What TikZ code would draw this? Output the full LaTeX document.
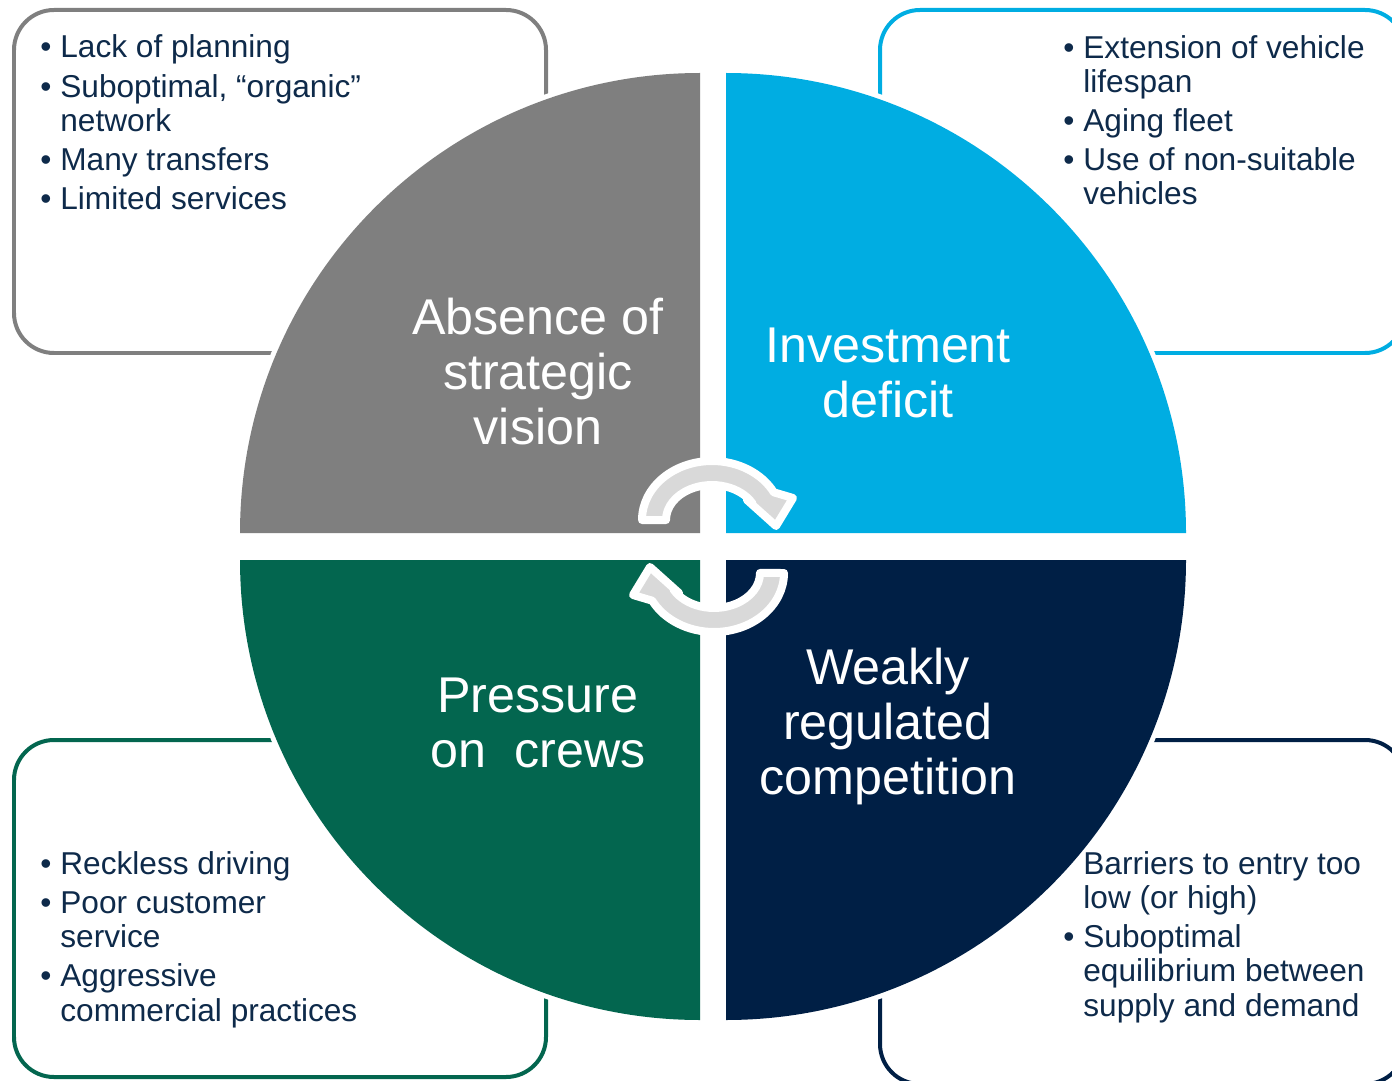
\documentclass[tikz,border=0pt]{standalone}
\usepackage{fontspec}
\setmainfont{Liberation Sans}
\definecolor{qgray}{HTML}{7F7F7F}
\definecolor{qblue}{HTML}{00ADE2}
\definecolor{qgreen}{HTML}{03664F}
\definecolor{qnavy}{HTML}{001F45}
\definecolor{textnavy}{HTML}{0E2A4A}
\definecolor{arrowgray}{HTML}{D9D9D9}
\newcommand{\itm}{\makebox[11.4pt][l]{•}}
\newcommand{\itmcont}{\hspace*{11.4pt}}
\tikzset{
	quad/.style={preaction={draw=white,line width=0.2cm}},
	panel/.style={rounded corners=0.8cm,line width=0.08cm},
	bullets/.style={anchor=base west,inner sep=0pt,align=left,text=textnavy,font=\fontsize{18}{19.4}\selectfont},
	title/.style={anchor=base,inner sep=0pt,align=center,text=white,font=\fontsize{28.6}{31.3}\selectfont},
	cycarrow/.style={fill=arrowgray,draw=white,line width=0.16cm,line join=round}
}

\begin{document}
\begin{tikzpicture}[x=0.02cm,y=0.02cm]
	\useasboundingbox (0,0) rectangle (1392,1080);
	\draw[panel,qgray] (14,727) rectangle (546,1070);
	\draw[panel,qblue] (880,727) rectangle (1405,1070);
	\draw[panel,qgreen] (14,3) rectangle (546,340);
	\draw[panel,qnavy] (880,-4) rectangle (1405,340);
	\fill[quad,qgray] (700,547) -- ++(0,460) arc[start angle=90,end angle=180,radius=460] -- cycle;
	\fill[quad,qblue] (726,547) -- ++(460,0) arc[start angle=0,end angle=90,radius=460] -- cycle;
	\fill[quad,qgreen] (700,520) -- ++(-460,0) arc[start angle=180,end angle=270,radius=460] -- cycle;
	\fill[quad,qnavy] (726,520) -- ++(0,-460) arc[start angle=270,end angle=360,radius=460] -- cycle;
	\node[title] (absence) at (538,636) {Absence of\\strategic\\vision};
	\node[title] (investment) at (888,663) {Investment\\deficit};
	\node[title] (pressure) at (538,313) {Pressure\\on\ \ crews};
	\node[title] (weakly) at (888,286) {Weakly\\regulated\\competition};
	\node[bullets] (visionlist) at (40,870) {\itm Lack of planning\\[3pt]
		\itm Suboptimal, “organic”\\ \itmcont network\\[3pt]
		\itm Many transfers\\[3pt]
		\itm Limited services};
	\node[bullets] (fleetlist) at (1063,875) {\itm Extension of vehicle\\ \itmcont lifespan\\[3pt]
		\itm Aging fleet\\[3pt]
		\itm Use of non-suitable\\ \itmcont vehicles};
	\node[bullets] (crewlist) at (40,59) {\itm Reckless driving\\[3pt]
		\itm Poor customer\\ \itmcont service\\[3pt]
		\itm Aggressive\\ \itmcont commercial practices};
	\node[bullets] (marketlist) at (1063,64) {\itmcont Barriers to entry too\\ \itmcont low (or high)\\[3pt]
		\itm Suboptimal\\ \itmcont equilibrium between\\ \itmcont supply and demand};
	\draw[cycarrow] (642,560) arc[start angle=180,end angle=28,x radius=70,y radius=59] -- (793,582) -- (776,554) -- (747,580) -- (752.6,576.4) arc[start angle=28,end angle=180,x radius=46,y radius=35] -- cycle;
	\draw[cycarrow,rotate around={180:(713,533.5)}] (642,560) arc[start angle=180,end angle=28,x radius=70,y radius=59] -- (793,582) -- (776,554) -- (747,580) -- (752.6,576.4) arc[start angle=28,end angle=180,x radius=46,y radius=35] -- cycle;
\end{tikzpicture}
\end{document}
